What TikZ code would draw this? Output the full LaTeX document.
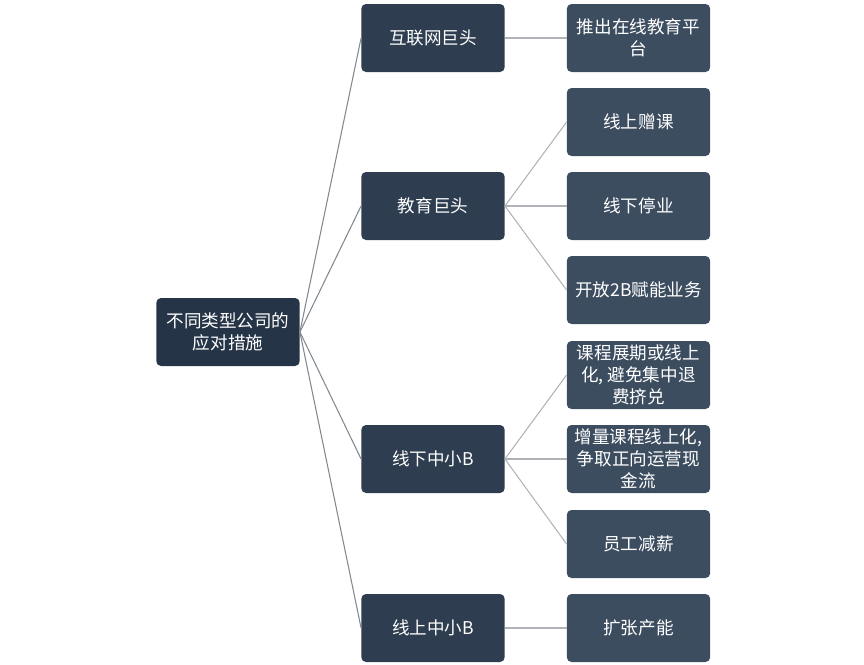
\documentclass[tikz,border=0pt]{standalone}
\usepackage{fontspec}
\setmainfont{Noto Sans CJK SC}
\usepackage{tikz}
\usepackage{xcolor}
\definecolor{root_blue}{RGB}{38,52,71}
\definecolor{mid_blue}{RGB}{46,62,80}
\definecolor{leaf_blue}{RGB}{61,77,96}
\definecolor{line_gray}{RGB}{130,136,144}
\definecolor{leaf_gray}{RGB}{175,178,182}

\tikzset{
 box/.style={rounded corners=4pt, text=white, align=center, inner sep=2pt,
   minimum width=4.3cm, minimum height=2.04cm, font=\fontsize{15}{19}\selectfont},
 rootbox/.style={box, fill=root_blue},
 midbox/.style={box, fill=mid_blue},
 leafbox/.style={box, fill=leaf_blue},
 link/.style={draw=line_gray, line width=0.9pt},
 leaflink/.style={draw=leaf_gray, line width=0.9pt}
}

\begin{document}
\begin{tikzpicture}[x=0.03cm, y=-0.03cm]
\useasboundingbox (0,0) rectangle (864,664);

 \coordinate (R) at (228,332);
 \coordinate (M1) at (433,38);
 \coordinate (M2) at (433,206);
 \coordinate (M3) at (433,459);
 \coordinate (M4) at (433,628);

 \node[rootbox] (root) at (R) {不同类型公司的\\应对措施};

 \node[midbox] (giant) at (M1) {互联网巨头};
 \node[midbox] (edu) at (M2) {教育巨头};
 \node[midbox] (offline) at (M3) {线下中小B};
 \node[midbox] (online) at (M4) {线上中小B};

% second level
 \node[leafbox] (platform) at (638.5,38) {推出在线教育平\\台};
 \node[leafbox] (gift) at (638.5,122) {线上赠课};
 \node[leafbox] (closed) at (638.5,206) {线下停业};
 \node[leafbox] (tob) at (638.5,290) {开放2B赋能业务};
 \node[leafbox] (delay) at (638.5,375) {课程展期或线上\\化, 避免集中退\\费挤兑};
 \node[leafbox] (cash) at (638.5,459) {增量课程线上化,\\争取正向运营现\\金流};
 \node[leafbox] (salary) at (638.5,544) {员工减薪};
 \node[leafbox] (expand) at (638.5,628) {扩张产能};

 \draw[link] (root.east) -- (giant.west);
 \draw[link] (root.east) -- (edu.west);
 \draw[link] (root.east) -- (offline.west);
 \draw[link] (root.east) -- (online.west);

 \draw[leaflink] (giant.east) -- (platform.west);
 \draw[leaflink] (edu.east) -- (gift.west);
 \draw[leaflink] (edu.east) -- (closed.west);
 \draw[leaflink] (edu.east) -- (tob.west);
 \draw[leaflink] (offline.east) -- (delay.west);
 \draw[leaflink] (offline.east) -- (cash.west);
 \draw[leaflink] (offline.east) -- (salary.west);
 \draw[leaflink] (online.east) -- (expand.west);
\end{tikzpicture}
\end{document}
